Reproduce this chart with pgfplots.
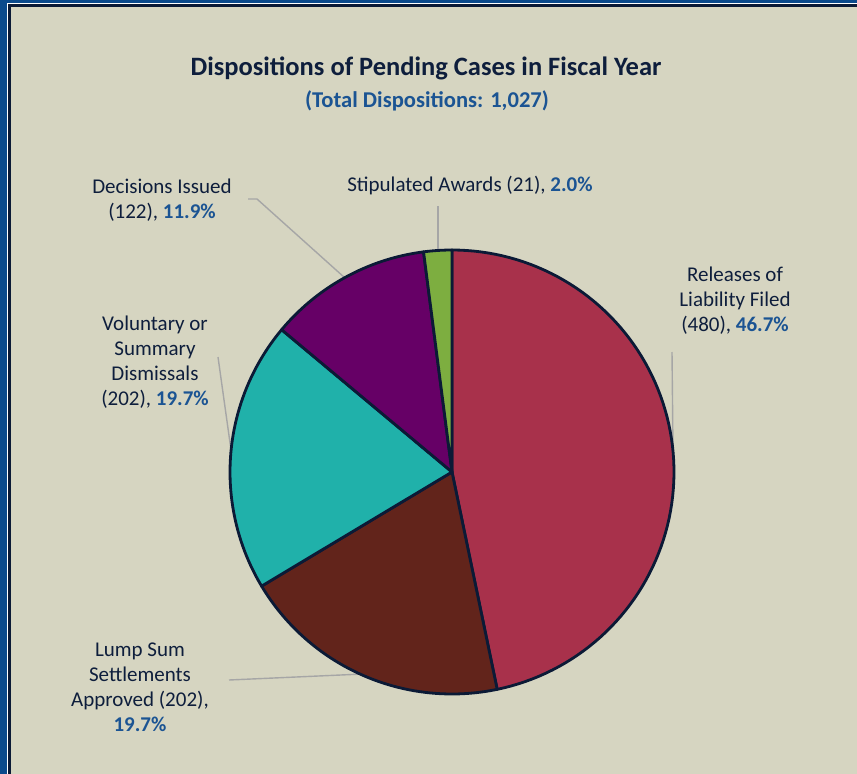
\documentclass[border=0pt]{standalone}
\usepackage{fontspec}
\setmainfont{Carlito}
\usepackage{pgfplots}
\pgfplotsset{compat=1.18}
\usepackage{pgfplotstable}
\definecolor{bg}{HTML}{D6D5C1}
\definecolor{frameblue}{HTML}{0B4A8C}
\definecolor{navy}{HTML}{0B1A36}
\definecolor{txt}{HTML}{0E1E3C}
\definecolor{pctblue}{HTML}{1B5493}
\definecolor{cA}{HTML}{A8314B}
\definecolor{cB}{HTML}{62241B}
\definecolor{cC}{HTML}{20B1AA}
\definecolor{cD}{HTML}{660066}
\definecolor{cE}{HTML}{7DAE40}
\definecolor{lead}{HTML}{A6A6A6}
\pgfplotstableread{
label value
Releases 480
LumpSum 202
Voluntary 202
Decisions 122
Stipulated 21
}\piedata
\begin{document}%
\pgfplotstablegetelem{0}{value}\of\piedata\let\vA\pgfplotsretval%
\pgfplotstablegetelem{1}{value}\of\piedata\let\vB\pgfplotsretval%
\pgfplotstablegetelem{2}{value}\of\piedata\let\vC\pgfplotsretval%
\pgfplotstablegetelem{3}{value}\of\piedata\let\vD\pgfplotsretval%
\pgfplotstablegetelem{4}{value}\of\piedata\let\vE\pgfplotsretval%
\pgfmathsetmacro\tot{\vA+\vB+\vC+\vD+\vE}%
\pgfmathsetmacro\aA{90}%
\pgfmathsetmacro\aB{\aA-360*(\vA/\tot)}%
\pgfmathsetmacro\aC{\aB-360*(\vB/\tot)}%
\pgfmathsetmacro\aD{\aC-360*(\vC/\tot)}%
\pgfmathsetmacro\aE{\aD-360*(\vD/\tot)}%
\pgfmathsetmacro\aF{\aE-360*(\vE/\tot)}%
\begin{tikzpicture}
\begin{axis}[width=857bp,height=774bp,scale only axis,hide axis,
  xmin=0,xmax=857,ymin=0,ymax=774,y dir=reverse,clip=false]
% background and frame
\fill[bg] (axis cs:0,0) rectangle (axis cs:857,774);
\fill[frameblue] (axis cs:0,0) rectangle (axis cs:857,3.2);
\fill[frameblue] (axis cs:0,0) rectangle (axis cs:7.2,774);
\fill[white] (axis cs:7.2,3.2) rectangle (axis cs:857,4.2);
\fill[white] (axis cs:7.2,3.2) rectangle (axis cs:8.2,774);
\fill[navy] (axis cs:8.2,4.2) rectangle (axis cs:857,7.2);
\fill[navy] (axis cs:8.2,4.2) rectangle (axis cs:11.2,774);
% leader lines
\draw[lead,line width=1.4bp] (axis cs:248,199) -- (axis cs:257,199) -- (axis cs:345,278);
\draw[lead,line width=1.4bp] (axis cs:438,206) -- (axis cs:438,252);
\draw[lead,line width=1.4bp] (axis cs:672,352) -- (axis cs:673,450);
\draw[lead,line width=1.4bp] (axis cs:218,357) -- (axis cs:232,457);
\draw[lead,line width=1.4bp] (axis cs:229,680) -- (axis cs:363,674);
% pie wedges
\addplot[fill=cA,draw=navy,line width=2.8bp,line join=round,domain=\aB:\aA,samples=90]
  ({452+222*cos(x)},{472-222*sin(x)}) -- (axis cs:452,472) -- cycle;
\addplot[fill=cB,draw=navy,line width=2.8bp,line join=round,domain=\aC:\aB,samples=50]
  ({452+222*cos(x)},{472-222*sin(x)}) -- (axis cs:452,472) -- cycle;
\addplot[fill=cC,draw=navy,line width=2.8bp,line join=round,domain=\aD:\aC,samples=50]
  ({452+222*cos(x)},{472-222*sin(x)}) -- (axis cs:452,472) -- cycle;
\addplot[fill=cD,draw=navy,line width=2.8bp,line join=round,domain=\aE:\aD,samples=40]
  ({452+222*cos(x)},{472-222*sin(x)}) -- (axis cs:452,472) -- cycle;
\addplot[fill=cE,draw=navy,line width=2.8bp,line join=round,domain=\aF:\aE,samples=10]
  ({452+222*cos(x)},{472-222*sin(x)}) -- (axis cs:452,472) -- cycle;
% titles
\node[txt,font=\fontsize{26.5bp}{30bp}\selectfont\bfseries] at (axis cs:426,68.5) {Dispositions of Pending Cases in Fiscal Year};
\node[pctblue,font=\fontsize{22.6bp}{26bp}\selectfont\bfseries] at (axis cs:427,101) {(Total Dispositions: 1,027)};
% labels
\node[txt,align=center,font=\fontsize{21bp}{25.5bp}\selectfont] at (axis cs:162,200)
  {Decisions Issued\\(122), \textcolor{pctblue}{\bfseries 11.9\%}};
\node[txt,align=center,font=\fontsize{21bp}{25.5bp}\selectfont] at (axis cs:470,186)
  {Stipulated Awards (21), \textcolor{pctblue}{\bfseries 2.0\%}};
\node[txt,align=center,font=\fontsize{21bp}{25bp}\selectfont] at (axis cs:735,301)
  {Releases of\\Liability Filed\\(480), \textcolor{pctblue}{\bfseries 46.7\%}};
\node[txt,align=center,font=\fontsize{21bp}{25bp}\selectfont] at (axis cs:155,362.5)
  {Voluntary or\\Summary\\Dismissals\\(202), \textcolor{pctblue}{\bfseries 19.7\%}};
\node[txt,align=center,font=\fontsize{21bp}{25bp}\selectfont] at (axis cs:140,687.5)
  {Lump Sum\\Settlements\\Approved (202),\\\textcolor{pctblue}{\bfseries 19.7\%}};
\end{axis}
\end{tikzpicture}%
\end{document}
